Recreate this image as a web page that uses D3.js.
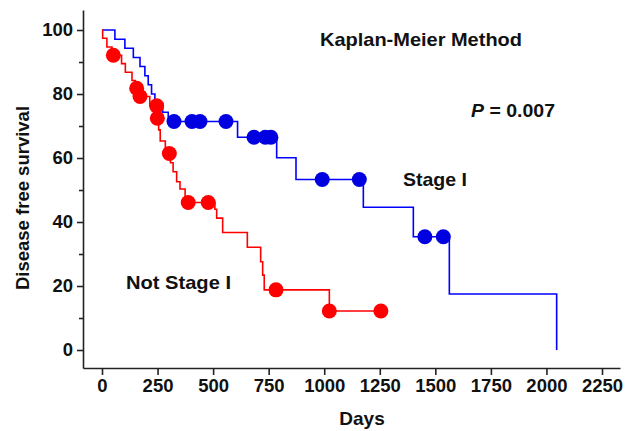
<!DOCTYPE html>
<html><head><meta charset="utf-8">
<script src="https://cdn.jsdelivr.net/npm/d3@7"></script>
<style>
html,body{margin:0;padding:0;background:#fff;}
text{font-family:"Liberation Sans",Arial,Helvetica,sans-serif;font-weight:bold;}
</style></head>
<body><svg id="c" width="631" height="431"></svg>
<script>
// Stage I curve: [day, survival %] at each step
const stageISteps = [[0,100],[58,97.1],[103,94.3],[141,91.4],[171,88.6],[193,85.7],[208,82.9],[223,80.0],[238,77.1],[273,74.3],[298,71.4],[610,66.5],[786,60.1],[873,53.3],[1176,44.6],[1401,35.4],[1563,17.5],[2046,0]];
const stageICensored = [[324,71.4],[405,71.4],[441,71.4],[558,71.4],[684,66.5],[735,66.5],[760,66.5],[991,53.3],[1158,53.3],[1453,35.4],[1536,35.4]];
// Not Stage I curve
const notStageISteps = [[0,100],[3,97.4],[22,94.7],[45,92.1],[88,89.5],[105,86.8],[135,84.2],[150,81.8],[165,79.2],[215,76.3],[247,72.4],[255,68.8],[262,65.3],[285,61.4],[308,58.5],[320,55.7],[336,52.6],[351,50.3],[374,47.9],[380,46.1],[508,44.0],[516,41.2],[543,36.7],[654,32.1],[714,27.6],[723,23.4],[730,18.8],[1023,12.2],[1255,12.2]];
const notStageICensored = [[51,92.1],[156,81.8],[171,79.2],[246,76.3],[249,72.4],[303,61.4],[388,46.1],[478,46.1],[783,18.8],[1023,12.2],[1255,12.2]];
const xTicks = [0,250,500,750,1000,1250,1500,1750,2000,2250];
const yTicks = [0,20,40,60,80,100];
const yMinorTicks = [10,30,50,70,90];

const svg = d3.select("#c");
const x = d3.scaleLinear().domain([-85.5, 2331]).range([83, 620]);
const y = d3.scaleLinear().domain([-5.625, 106.25]).range([368, 10]);

const axisColor = "#222";
// x axis
const gx = svg.append("g").attr("transform","translate(0,368)")
  .call(d3.axisBottom(x).tickValues(xTicks).tickFormat(d3.format("d")).tickSize(7).tickSizeOuter(0).tickPadding(4));
gx.selectAll("text").attr("font-size",18.5).attr("fill","#111");
// y axis
const gy = svg.append("g").attr("transform","translate(83,0)")
  .call(d3.axisLeft(y).tickValues(yTicks).tickFormat(d3.format("d")).tickSize(6).tickSizeOuter(0).tickPadding(4));
gy.selectAll("text").attr("font-size",18.5).attr("fill","#111");
svg.append("g").attr("transform","translate(83,0)")
  .call(d3.axisLeft(y).tickValues(yMinorTicks).tickSize(4).tickFormat(""))
  .select(".domain").remove();
svg.selectAll(".domain, .tick line").attr("stroke",axisColor).attr("stroke-width",1.6);

// axis titles
svg.append("text").attr("x",362).attr("y",425).attr("text-anchor","middle")
  .attr("font-size",19).attr("fill","#111").text("Days");
svg.append("text").attr("transform","translate(29,198) rotate(-90)").attr("text-anchor","middle")
  .attr("font-size",18.5).attr("fill","#111").text("Disease free survival");

const line = d3.line().x(d=>x(d[0])).y(d=>y(d[1])).curve(d3.curveStepAfter);

function drawCurve(steps, cens, lineColor, dotColor){
  svg.append("path").datum(steps).attr("d",line).attr("fill","none")
    .attr("stroke",lineColor).attr("stroke-width",1.6);
  svg.append("g").selectAll("circle").data(cens).join("circle")
    .attr("cx",d=>x(d[0])).attr("cy",d=>y(d[1])).attr("r",7.5).attr("fill",dotColor);
}
drawCurve(stageISteps, stageICensored, "#0000ff", "#0000e0");
drawCurve(notStageISteps, notStageICensored, "#ff0000", "#ff0000");

// annotations
function label(xp, yp, w){
  return svg.append("text").attr("x",xp).attr("y",yp).attr("font-size",18.5).attr("fill","#111")
    .attr("textLength",w).attr("lengthAdjust","spacingAndGlyphs");
}
label(320,46,202).text("Kaplan-Meier Method");
const p = label(471,117,84);
p.append("tspan").attr("font-style","italic").text("P");
p.append("tspan").text(" = 0.007");
label(403,186,64).text("Stage I");
label(126,289,105).text("Not Stage I");
</script></body></html>
